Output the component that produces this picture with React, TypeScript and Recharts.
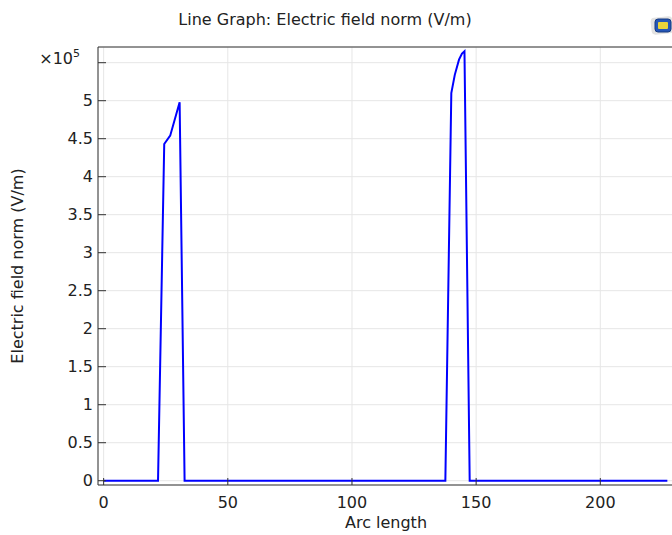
import { CartesianGrid, Label, Line, LineChart, XAxis, YAxis } from "recharts";

// arc length along the cut line, and |E| in V/m
const arcLength = [0, 21.9, 24.4, 26.8, 30.6, 32.6, 137.6, 140.0, 141.4, 143.1, 144.3, 145.3, 147.4, 227];
const fieldNorm = [0, 0, 443000, 454000, 498000, 0, 0, 510000, 534000, 554000, 562000, 565000, 0, 0];

const xTicks = [0, 50, 100, 150, 200];
const yTicks = [0, 50000, 100000, 150000, 200000, 250000, 300000, 350000, 400000, 450000, 500000, 550000];

// comsol pads the axes by 1% of the data range
const xDomain = [-2.27, 229.27];
const yDomain = [-5650, 570650];

const FONT = "'DejaVu Sans', sans-serif";
const INK = "#222";
const AXIS = "#333";

const YTick = (props: any) => {
  const { x, y, payload } = props;
  if (payload.value === 550000) {
    return (
      <text x={x - 13} y={y - 4} textAnchor="end" dominantBaseline="central" fontSize={16} fill={INK} fontFamily={FONT}>
        ×10<tspan dy={-6} fontSize={11}>5</tspan>
      </text>
    );
  }
  return (
    <text x={x} y={y} textAnchor="end" dominantBaseline="central" fontSize={16} fill={INK} fontFamily={FONT}>
      {payload.value / 1e5}
    </text>
  );
};

const Title = () => (
  <g>
    <text x={325} y={25} textAnchor="middle" fontSize={16} fill={INK} fontFamily={FONT}>
      Line Graph: Electric field norm (V/m)
    </text>
    <rect x={651} y={17} width={22} height={17} rx={4} fill="#e2e2e2" transform="rotate(-6 662 25)" />
    <rect x={655} y={19} width={16} height={13} rx={3} fill="#2456b8" stroke="#163a80" />
    <rect x={658} y={22} width={10} height={7} rx={1} fill="#e9d43c" />
  </g>
);

export default function App() {
  const data = arcLength.map((s, i) => ({ s, e: fieldNorm[i] }));
  return (
    <div style={{ position: "absolute", left: 0, top: 0, width: 672, height: 535, overflow: "hidden", background: "#fff", fontFamily: FONT }}>
      <LineChart width={690} height={535} data={data} margin={{ top: 47, right: 17, bottom: 0, left: 0 }}>
        <CartesianGrid xAxisId="bottom" yAxisId="left" stroke="#e6e6e6" />
        <XAxis
          xAxisId="bottom"
          type="number"
          dataKey="s"
          domain={xDomain}
          ticks={xTicks}
          interval={0}
          allowDataOverflow
          height={50}
          tickSize={-7}
          tickMargin={19}
          stroke={AXIS}
          tick={{ fontSize: 16, fill: INK, fontFamily: FONT }}
        >
          <Label
            content={() => (
              <text x={386} y={528} textAnchor="middle" fontSize={16} fill={INK} fontFamily={FONT}>
                Arc length
              </text>
            )}
          />
        </XAxis>
        <XAxis
          xAxisId="top"
          orientation="top"
          type="number"
          dataKey="s"
          domain={xDomain}
          ticks={xTicks}
          interval={0}
          allowDataOverflow
          mirror
          height={1}
          tickSize={7}
          tick={false}
          stroke={AXIS}
        >
          <Label content={() => <Title />} />
        </XAxis>
        <YAxis
          yAxisId="left"
          type="number"
          domain={yDomain}
          ticks={yTicks}
          interval={0}
          allowDataOverflow
          width={98}
          tickSize={-8}
          tickMargin={13}
          stroke={AXIS}
          tick={YTick}
        >
          <Label
            content={() => (
              <text
                transform="translate(17 266) rotate(-90)"
                textAnchor="middle"
                dominantBaseline="central"
                fontSize={16}
                fill={INK}
                fontFamily={FONT}
              >
                Electric field norm (V/m)
              </text>
            )}
          />
        </YAxis>
        <YAxis
          yAxisId="right"
          orientation="right"
          type="number"
          domain={yDomain}
          ticks={yTicks}
          interval={0}
          allowDataOverflow
          mirror
          width={1}
          tickSize={8}
          tick={false}
          stroke={AXIS}
        />
        <Line
          xAxisId="bottom"
          yAxisId="left"
          type="linear"
          dataKey="e"
          stroke="#0000ff"
          strokeWidth={2}
          dot={false}
          isAnimationActive={false}
        />
      </LineChart>
    </div>
  );
}
